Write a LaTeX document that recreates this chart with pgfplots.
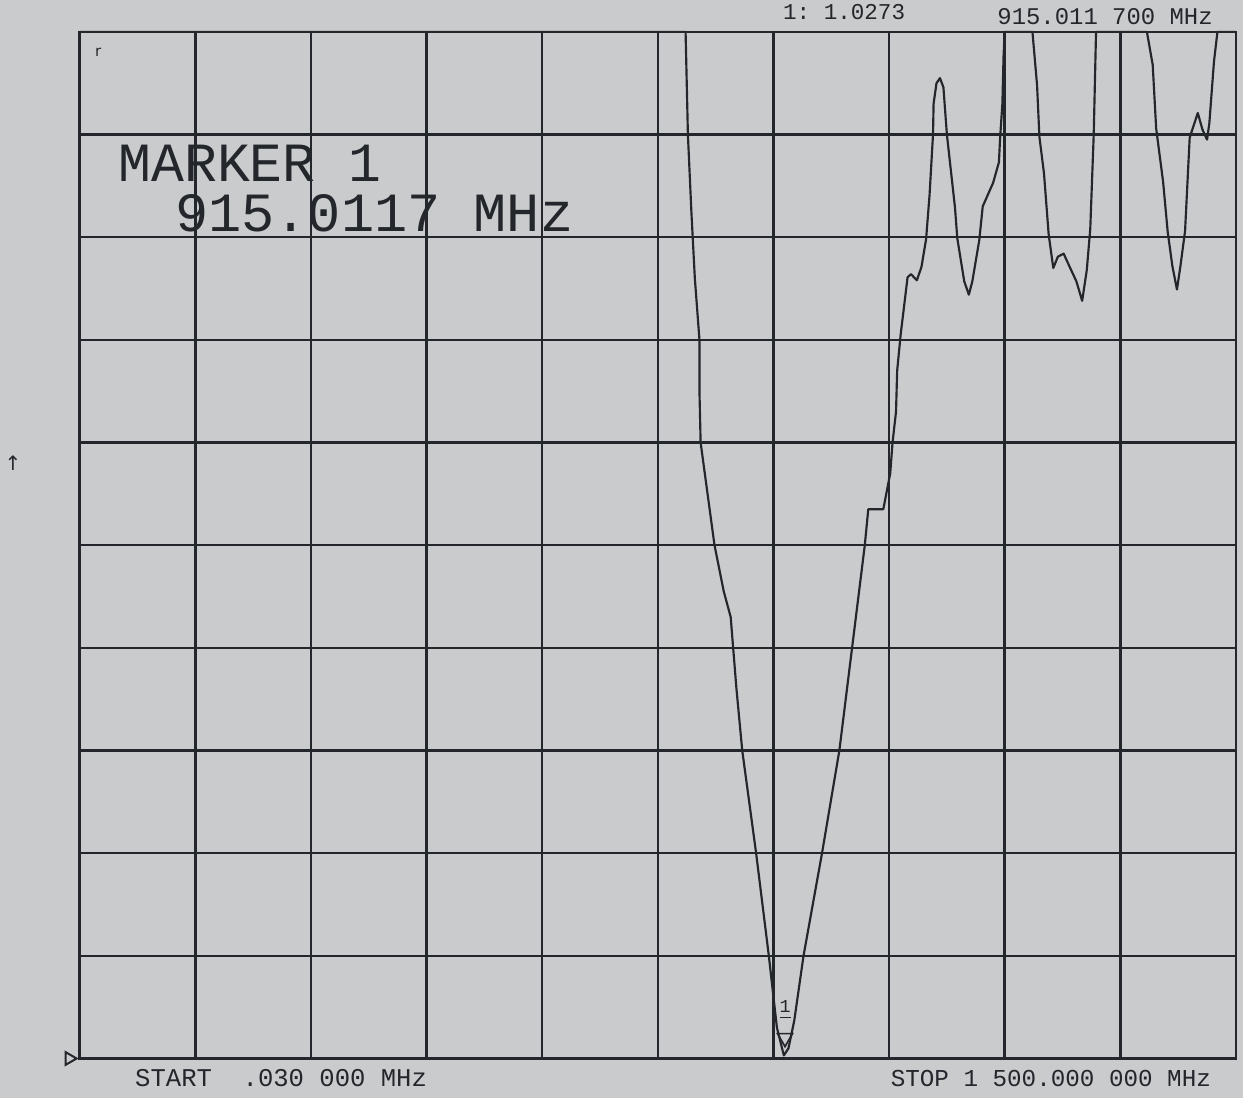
\documentclass[border=0pt]{standalone}
\usepackage{pgfplots}
\pgfplotsset{compat=1.18}
\usepackage{fontspec}
\setmonofont{Liberation Mono}
\newfontfamily\symfont{DejaVu Sans}
\definecolor{paper}{HTML}{CACBCC}
\definecolor{ink}{HTML}{23262B}
\begin{document}
\begin{tikzpicture}
% page: 1247 x 1102 px at 0.3pt per px
\fill[paper] (0,0) rectangle (374.1pt,330.6pt);
\begin{axis}[
  at={(24pt,12pt)}, anchor=south west,
  scale only axis, width=348pt, height=309pt,
  xmin=0, xmax=10, ymin=0, ymax=10,
  xtick={0,...,10}, ytick={0,...,10},
  xticklabels={}, yticklabels={},
  major tick length=0pt,
  grid=major,
  grid style={ink, line width=0.75pt},
  axis line style={ink, line width=0.8pt},
  clip=false,
  axis background/.style={fill=paper},
]
\addplot[ink, line width=0.65pt, line join=round] coordinates {
(0,10) (5.24,10) (5.26,9.0) (5.29,8.25) (5.32,7.6) (5.36,7.0) (5.36,6.5) (5.37,6.0)
(5.43,5.5) (5.49,5.0) (5.57,4.55) (5.63,4.3) (5.68,3.6) (5.73,3.0) (5.85,2.0)
(5.96,1.0) (6.03,0.3) (6.09,0.03) (6.13,0.1) (6.18,0.37) (6.26,1.0) (6.42,2.0)
(6.57,3.0) (6.68,4.0) (6.79,5.0) (6.82,5.35) (6.95,5.35) (7.01,5.7) (7.03,6.0)
(7.06,6.3) (7.07,6.7) (7.10,7.05) (7.16,7.61) (7.19,7.64) (7.24,7.58) (7.28,7.71)
(7.32,7.98) (7.35,8.41) (7.38,9.0) (7.385,9.3) (7.41,9.5) (7.44,9.55) (7.47,9.46)
(7.50,9.0) (7.57,8.29) (7.59,7.99) (7.65,7.57) (7.69,7.44) (7.72,7.57) (7.78,7.97)
(7.81,8.30) (7.90,8.53) (7.95,8.73) (7.96,8.96) (7.98,9.3) (7.99,9.76) (8.0,10)
(8.24,10) (8.28,9.48) (8.30,8.98) (8.34,8.62) (8.38,8.03) (8.42,7.70) (8.46,7.81)
(8.51,7.84) (8.55,7.74) (8.62,7.57) (8.67,7.38) (8.71,7.68) (8.74,8.08) (8.77,9.0)
(8.79,10) (9.23,10) (9.28,9.68) (9.31,9.06) (9.37,8.54) (9.41,8.05) (9.45,7.72)
(9.49,7.49) (9.52,7.72) (9.56,8.06) (9.60,8.97) (9.67,9.21) (9.71,9.05) (9.75,8.95)
(9.77,9.11) (9.81,9.71) (9.84,10) (10,10)
};
% marker 1
\addplot[ink, only marks, mark=triangle, mark size=2.6pt,
  mark options={rotate=180, line width=0.5pt}] coordinates {(6.1,0.2)};
\node[font=\ttfamily\fontsize{5.5}{6}\selectfont, ink, inner sep=0.5pt]
  at (axis cs:6.1,0.47) {\underline{1}};
% reference position marker
\addplot[ink, only marks, mark=triangle, mark size=2.2pt,
  mark options={rotate=-90, line width=0.6pt}] coordinates {(-0.09,0)};
% annotations inside grid
\node[font=\ttfamily\fontsize{16}{16}\selectfont, ink, anchor=west, inner sep=0pt]
  at (axis cs:0.33,8.72) {\scalebox{1.03}[1.04]{MARKER 1}};
\node[font=\ttfamily\fontsize{16}{16}\selectfont, ink, anchor=west, inner sep=0pt]
  at (axis cs:0.82,8.23) {\scalebox{1.04}[1.04]{915.0117 MHz}};
\node[font=\symfont\fontsize{4.5}{5}\selectfont, ink, inner sep=0pt]
  at (axis cs:0.16,9.8) {r};
\end{axis}
\begin{scope}[x=0.3pt, y=-0.3pt, yshift=330.6pt]
\node[font=\ttfamily\fontsize{7.7}{8}\selectfont, ink, anchor=west, inner sep=0pt]
  at (135,1082) {START \ .030 000 MHz};
\node[font=\ttfamily\fontsize{7.3}{8}\selectfont, ink, anchor=west, inner sep=0pt]
  at (893,1082) {STOP 1 500.000 000 MHz};
\node[font=\ttfamily\fontsize{7.2}{8}\selectfont, ink, anchor=west, inner sep=0pt]
  at (1000,17) {915.011 700 MHz};
\node[font=\ttfamily\fontsize{6.8}{7}\selectfont, ink, anchor=west, inner sep=0pt]
  at (785,12) {1: 1.0273};
\node[font=\symfont\fontsize{6}{6}\selectfont, ink, inner sep=0pt]
  at (13,465) {↑};
\end{scope}
\end{tikzpicture}
\end{document}
